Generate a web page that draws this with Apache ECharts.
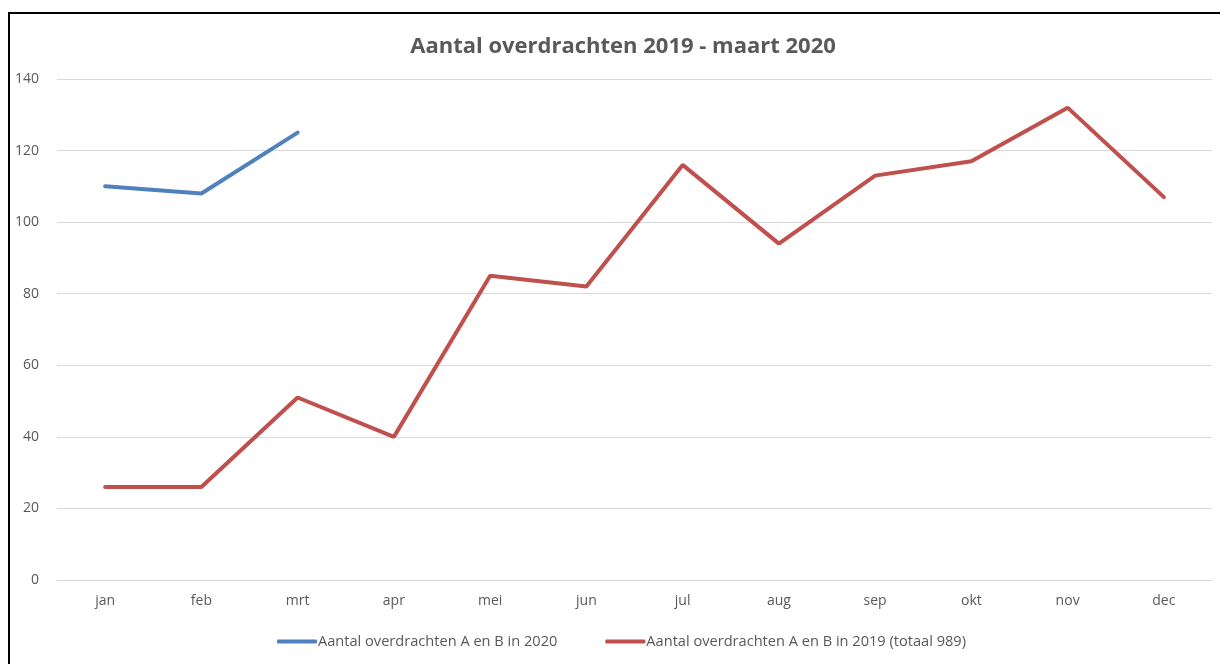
<!DOCTYPE html>
<html>
<head>
<meta charset="utf-8">
<script src="https://cdn.jsdelivr.net/npm/echarts@6/dist/echarts.min.js"></script>
<style>
  html, body { margin: 0; padding: 0; background: #fff; }
  #frame {
    position: absolute; left: 8px; top: 12px; width: 1230px; height: 670px;
    border-left: 2px solid #000; border-top: 2px solid #000; box-sizing: border-box;
  }
  #chart { position: absolute; left: 0; top: 0; width: 1220px; height: 664px; }
</style>
</head>
<body>
<div id="chart"></div>
<div id="frame"></div>
<script>
const months = ["jan", "feb", "mrt", "apr", "mei", "jun", "jul", "aug", "sep", "okt", "nov", "dec"];
const values2020 = [110, 108, 125];
const values2019 = [26, 26, 51, 40, 85, 82, 116, 94, 113, 117, 132, 107];
const yTicks = [0, 20, 40, 60, 80, 100, 120, 140];

const chart = echarts.init(document.getElementById("chart"));

const option = {
  backgroundColor: "#fff",
  animation: false,
  textStyle: { fontFamily: "Open Sans, sans-serif" },
  color: ["#4F81BD", "#C0504D"],
  title: {
    text: "Aantal overdrachten 2019 - maart 2020",
    left: 618,
    textAlign: "center",
    top: 31,
    textStyle: { color: "#595959", fontSize: 22, fontWeight: "bold" }
  },
  legend: {
    bottom: 10,
    left: 272,
    itemWidth: 40,
    itemHeight: 4,
    itemGap: 48,
    icon: "roundRect",
    textStyle: { color: "#595959", fontSize: 14.6, padding: [0, 0, 0, -4] },
    data: ["Aantal overdrachten A en B in 2020", "Aantal overdrachten A en B in 2019 (totaal 989)"]
  },
  grid: { left: 57, right: 8, top: 79, bottom: 84 },
  xAxis: {
    type: "category",
    data: months,
    boundaryGap: true,
    axisLine: { show: true, lineStyle: { color: "#d9d9d9" } },
    axisTick: { show: false },
    axisLabel: { color: "#595959", fontSize: 14, margin: 14 }
  },
  yAxis: {
    type: "value",
    min: yTicks[0],
    max: yTicks[yTicks.length - 1],
    interval: 20,
    axisLine: { show: false },
    axisTick: { show: false },
    splitLine: { lineStyle: { color: "#d9d9d9", width: 1 } },
    axisLabel: { color: "#595959", fontSize: 14, margin: 18 }
  },
  series: [
    {
      name: "Aantal overdrachten A en B in 2020",
      type: "line",
      data: values2020,
      symbol: "none",
      lineStyle: { width: 4, cap: "round" }
    },
    {
      name: "Aantal overdrachten A en B in 2019 (totaal 989)",
      type: "line",
      data: values2019,
      symbol: "none",
      lineStyle: { width: 4, cap: "round" }
    }
  ]
};

chart.setOption(option);
</script>
</body>
</html>
